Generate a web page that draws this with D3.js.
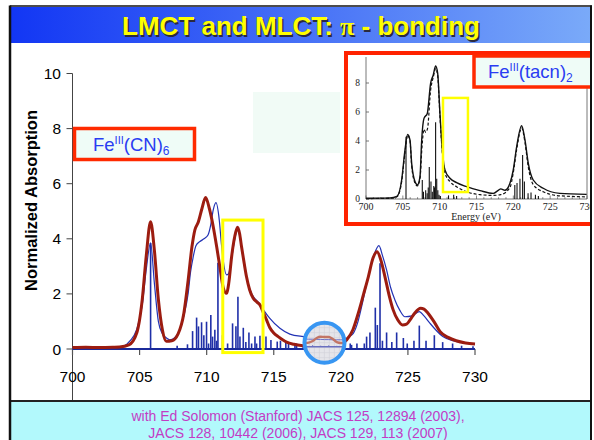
<!DOCTYPE html>
<html><head><meta charset="utf-8">
<script src="https://cdn.jsdelivr.net/npm/d3@7"></script>
<style>body{margin:0;background:#fff}svg{display:block}</style>
</head><body>
<svg id="c" width="594" height="440"></svg>
<script>
// ---------- data ----------
const xTicks = [700, 705, 710, 715, 720, 725, 730];
const yTicks = [0, 2, 4, 6, 8, 10];

// measured spectrum (red)
const redE = [700,701,702,703,703.5,704.2,704.8,705.2,705.5,705.82,706.1,706.4,706.7,707.0,707.4,707.87,708.3,708.62,708.9,709.12,709.37,709.65,709.92,710.2,710.49,710.75,710.98,711.25,711.48,711.65,711.86,712.1,712.3,712.45,712.6,712.8,712.97,713.2,713.47,713.75,713.97,714.2,714.47,714.7,715.0,715.33,715.96,716.5,717.2,717.8,718.5,719.3,720.0,720.43,720.9,721.3,721.7,722.05,722.4,722.7,723.0,723.29,723.6,723.9,724.25,724.6,724.9,725.15,725.5,725.95,726.2,726.5,727.0,727.4,728.0,728.6,729.3,730];
const redV = [0.05,0.06,0.05,0.06,0.07,0.15,0.6,1.8,3.4,4.62,3.6,1.8,0.7,0.28,0.3,0.55,1.3,2.5,3.7,4.32,4.6,5.1,5.5,5.1,4.44,3.7,2.99,2.2,2.02,2.4,3.35,4.1,4.42,4.2,3.71,3.1,2.62,2.15,1.84,1.7,1.6,1.35,1.05,0.78,0.58,0.45,0.25,0.17,0.12,0.1,0.11,0.12,0.18,0.33,0.7,1.3,2.0,2.62,3.3,3.53,3.2,2.62,1.95,1.42,1.05,0.87,0.9,1.05,1.3,1.48,1.45,1.3,0.95,0.63,0.42,0.3,0.22,0.18];

// calculated spectrum (blue)
const blueE = [700,702,703,703.8,704.3,704.77,705.2,705.5,705.82,706.1,706.4,706.7,707.0,707.26,707.6,708.0,708.3,708.62,708.8,709.0,709.2,709.5,709.8,710.1,710.3,710.49,710.69,710.94,711.1,711.23,711.48,711.62,711.86,712.1,712.3,712.45,712.6,712.8,712.97,713.2,713.47,713.75,713.97,714.34,714.71,715.46,716.2,717.2,718.2,719.2,720.2,720.6,720.93,721.25,721.55,721.85,722.17,722.5,722.84,723.1,723.41,723.7,724.03,724.4,724.78,725.3,725.85,726.2,726.65,727.1,727.6,728.5,729.6,730];
const blueV = [0.02,0.02,0.03,0.1,0.3,0.69,1.6,2.9,3.85,2.4,1.0,0.55,0.4,0.33,0.4,0.69,1.2,2.02,2.8,3.35,3.75,3.9,4.0,4.14,4.5,5.05,5.31,4.68,3.8,3.23,2.69,2.72,3.3,4.0,4.35,4.15,3.68,3.1,2.62,2.2,1.9,1.75,1.62,1.35,1.11,0.75,0.54,0.45,0.4,0.36,0.35,0.45,0.57,0.95,1.54,2.2,2.87,3.45,3.75,3.4,2.87,2.25,1.78,1.4,1.17,1.2,1.36,1.2,0.93,0.68,0.45,0.28,0.2,0.18];

// stick spectrum (blue)
const stickE = [705.82,707.8,708.57,708.95,709.25,709.39,709.62,709.79,709.99,710.14,710.31,710.44,710.61,710.74,710.84,711.18,711.56,711.93,712.18,712.33,712.48,712.73,712.92,713.15,713.35,713.6,713.72,713.97,714.42,714.79,715.26,715.5,715.9,716.1,716.58,716.7,717.2,720.2,720.7,720.8,721.2,721.75,721.92,722.17,722.57,722.72,722.92,723.1,723.41,723.8,724.16,724.66,724.95,725.45,725.85,726.35,726.97,727.59,728.33,729.0,729.85];
const stickV = [3.85,0.12,0.17,0.65,1.14,0.82,0.97,0.5,0.99,0.2,1.23,0.45,0.7,0.3,3.13,0.5,0.2,0.93,0.83,1.9,0.45,0.77,0.25,0.6,0.2,0.45,0.2,0.48,0.45,0.33,0.27,0.3,0.25,0.25,0.15,0.2,0.15,0.25,0.2,0.15,0.2,0.2,0.45,0.6,1.5,0.87,3.11,0.3,0.6,0.25,0.6,0.4,0.2,0.3,0.85,0.3,0.5,0.25,0.2,0.12,0.1];

// magnified pre-edge view (inside circle)
const magE = [716.9,717.3,717.6,717.9,718.2,718.5,718.8,719.1,719.4,719.7,720.0,720.3];
const magRedV = [0.28,0.3,0.32,0.4,0.55,0.61,0.6,0.6,0.5,0.34,0.3,0.3];
const magBlueV = [0.5,0.5,0.49,0.49,0.48,0.48,0.47,0.47,0.46,0.46,0.46,0.46];
const magStickE = [717.3,717.9,718.5,719.1,719.7];
const magStickV = [0.18,0.2,0.17,0.19,0.16];

// inset: Fe(III)(tacn)2
const insXTicks = [700, 705, 710, 715, 720, 725, 730];
const insYTicks = [0, 2, 4, 6, 8];
const insSolidE = [700,702,703.26,704.2,704.84,705.29,705.65,705.97,706.2,706.65,706.97,707.33,707.56,707.87,708.32,708.77,709.13,709.45,709.73,710.04,710.36,710.72,711.4,712.3,713.66,715.47,717.27,717.95,718.3,718.86,719.54,719.99,720.45,721.13,721.58,722.03,722.7,724.06,726.3,729.95];
const insSolidV = [0.05,0.06,0.07,0.18,1.31,3.38,4.45,4.07,2.46,1.2,0.97,1.55,4.07,5.56,5.9,7.98,8.55,9.17,8.67,5.9,3.38,2.0,1.43,1.13,0.85,0.58,0.39,0.6,0.7,0.6,1.08,2.0,3.6,5.05,4.07,2.46,1.31,0.74,0.39,0.32];
const insDashE = [700,703.3,704.2,704.84,705.29,705.65,705.97,706.2,706.65,706.97,707.33,707.6,707.87,708.1,708.35,708.77,709.13,709.45,709.73,710.04,710.36,710.72,711.4,712.3,713.66,715.47,717.27,718.3,719.54,719.99,720.45,721.13,721.58,722.03,722.7,724.06,726.3,729.95];
const insDashV = [0.03,0.05,0.15,1.2,3.2,4.4,4.0,2.3,1.1,0.9,1.4,3.6,4.8,4.6,4.85,7.5,8.4,9.0,8.5,5.7,3.2,1.8,1.2,0.85,0.5,0.3,0.25,0.3,0.8,1.8,3.4,4.9,3.9,2.2,1.0,0.5,0.22,0.15];
const insStickE = [705.43,707.64,707.8,708.1,708.3,708.45,708.59,708.82,709.0,709.2,709.3,709.45,709.6,709.75,709.9,710.1,711.2,711.9,712.3,720.2,720.5,720.9,721.26,721.5,722.0,722.4,723.0,723.4];
const insStickV = [4.3,1.31,0.5,0.6,0.4,0.8,2.2,1.2,0.5,0.9,0.8,5.29,1.4,0.6,0.3,0.2,0.25,0.3,0.2,0.97,1.1,1.4,3.03,1.2,0.4,0.45,0.3,0.2];

// annotation regions, in data units
const mainHighlight = {e0: 711.2, e1: 714.2, v0: -0.13, v1: 4.68};
const insetHighlight = {e0: 710.45, e1: 713.84, v0: 0.48, v1: 6.97};
const magnifier = {e: 718.78, v: 0.23};

const titleText = ["LMCT and MLCT: ", "π", " - bonding"];
const refLines = ["with Ed Solomon (Stanford) JACS 125, 12894 (2003),",
                  "JACS 128, 10442 (2006), JACS 129, 113 (2007)"];

// ---------- drawing ----------
const svg = d3.select("#c");
const defs = svg.append("defs");
const grad = defs.append("linearGradient").attr("id","tg").attr("x1","0").attr("x2","1");
grad.append("stop").attr("offset","0").attr("stop-color","#1236f4");
grad.append("stop").attr("offset","1").attr("stop-color","#7aaaf9");
defs.append("clipPath").attr("id","slide").append("rect").attr("x",10).attr("y",6).attr("width",581).attr("height",440);

const root = svg.append("g").attr("clip-path","url(#slide)");
const SANS = "'Liberation Sans', Arial, Helvetica, sans-serif";
const SERIF = "'Liberation Serif', 'Times New Roman', serif";

const x = d3.scaleLinear().domain([700,730]).range([72.5,475]);
const y = d3.scaleLinear().domain([0,10]).range([349,73.5]);

// faint pale rectangle
root.append("rect").attr("x",253).attr("y",92).attr("width",87).attr("height",61).attr("fill","#f1fbf6");

// y axis
root.append("line").attr("x1",x(700)).attr("x2",x(700)).attr("y1",y(10)).attr("y2",402)
  .attr("stroke","#444").attr("stroke-width",1);
root.selectAll(".yt").data(yTicks).join("line").attr("x1",x(700)-6).attr("x2",x(700))
  .attr("y1",d=>y(d)).attr("y2",d=>y(d)).attr("stroke","#444");
root.selectAll(".yl").data(yTicks).join("text").attr("x",61).attr("y",d=>y(d)).attr("dy","0.36em")
  .attr("text-anchor","end").attr("font-family",SANS).attr("font-size",15.5).text(d=>d);

// x ticks
root.selectAll(".xt").data(xTicks).join("line").attr("x1",d=>x(d)).attr("x2",d=>x(d))
  .attr("y1",y(0)).attr("y2",y(0)+6).attr("stroke","#555").attr("stroke-width",1.2);
root.selectAll(".xl").data(xTicks).join("text").attr("x",d=>x(d)).attr("y",376).attr("dy","0.36em")
  .attr("text-anchor","middle").attr("font-family",SANS).attr("font-size",15.5).text(d=>d);

// y title
root.append("text").attr("transform","translate(37,110) rotate(-90)").attr("text-anchor","end")
  .attr("font-family",SANS).attr("font-weight","bold").attr("font-size",16.5).text("Normalized Absorption");

// sticks
const sticks = d3.zip(stickE, stickV);
root.selectAll(".st").data(sticks).join("line").attr("x1",d=>x(d[0])).attr("x2",d=>x(d[0]))
  .attr("y1",y(0)).attr("y2",d=>y(d[1])).attr("stroke","#1f2fa8").attr("stroke-width",1.6);
root.append("line").attr("x1",x(700)).attr("x2",x(730)).attr("y1",y(0)).attr("y2",y(0))
  .attr("stroke","#1a2a9a").attr("stroke-width",2);

const line = d3.line().x(d=>x(d[0])).y(d=>y(d[1])).curve(d3.curveMonotoneX);
root.append("path").attr("d",line(d3.zip(blueE,blueV))).attr("fill","none")
  .attr("stroke","#2232b4").attr("stroke-width",1.2);
root.append("path").attr("d",line(d3.zip(redE,redV))).attr("fill","none")
  .attr("stroke","#9c1c10").attr("stroke-width",3).attr("stroke-linejoin","round");

// magnifier
const cx = x(magnifier.e), cy = y(magnifier.v), cr = 20;
defs.append("clipPath").attr("id","mag").append("circle").attr("cx",cx).attr("cy",cy).attr("r",cr);
const mg = root.append("g").attr("clip-path","url(#mag)");
mg.append("circle").attr("cx",cx).attr("cy",cy).attr("r",cr).attr("fill","#e5e5ea");
const gridSteps = d3.range(-4,5);
mg.selectAll(".gv").data(gridSteps).join("line").attr("x1",d=>cx+d*5).attr("x2",d=>cx+d*5)
  .attr("y1",cy-cr).attr("y2",cy+cr).attr("stroke","#d2d2da").attr("stroke-width",0.6);
mg.selectAll(".gh").data(gridSteps).join("line").attr("y1",d=>cy+d*5).attr("y2",d=>cy+d*5)
  .attr("x1",cx-cr).attr("x2",cx+cr).attr("stroke","#d2d2da").attr("stroke-width",0.6);
const yMag = d3.scaleLinear().domain([0,1]).range([349,329]);
const magLine = d3.line().x(d=>x(d[0])).y(d=>yMag(d[1])).curve(d3.curveMonotoneX);
mg.selectAll(".ms").data(d3.zip(magStickE,magStickV)).join("line").attr("x1",d=>x(d[0])).attr("x2",d=>x(d[0]))
  .attr("y1",yMag(0.115)).attr("y2",d=>yMag(d[1])).attr("stroke","#7a80c8").attr("stroke-width",1);
mg.append("line").attr("x1",cx-cr).attr("x2",cx+cr).attr("y1",yMag(0.115)).attr("y2",yMag(0.115))
  .attr("stroke","#6a70c0").attr("stroke-width",1.4);
mg.append("path").attr("d",magLine(d3.zip(magE,magBlueV))).attr("fill","none").attr("stroke","#6a70c8").attr("stroke-width",1);
mg.append("path").attr("d",magLine(d3.zip(magE,magRedV))).attr("fill","none").attr("stroke","#c27565").attr("stroke-width",2.4);
root.append("circle").attr("cx",cx).attr("cy",cy).attr("r",cr).attr("fill","none")
  .attr("stroke","#3896f2").attr("stroke-width",4);

// main highlight box
root.append("rect").attr("x",x(mainHighlight.e0)).attr("y",y(mainHighlight.v1))
  .attr("width",x(mainHighlight.e1)-x(mainHighlight.e0)).attr("height",y(mainHighlight.v0)-y(mainHighlight.v1))
  .attr("fill","none").attr("stroke","#ffff00").attr("stroke-width",3);

// chemical labels
function chemLabel(t, parts){
  parts.forEach(p=>{
    const ts = t.append("tspan").text(p.t);
    if(p.sup){ ts.attr("font-size",11).attr("dy",-7); }
    else if(p.sub){ ts.attr("font-size",12).attr("dy",p.dy); }
    else if(p.dy){ ts.attr("dy",p.dy); }
  });
}
root.append("rect").attr("x",74.5).attr("y",128.5).attr("width",120).attr("height",31)
  .attr("fill","#effcf7").attr("stroke","#ff2a00").attr("stroke-width",3.5);
chemLabel(root.append("text").attr("x",93).attr("y",151).attr("font-family",SANS).attr("font-size",18.5).attr("fill","#2a3cf2"),
  [{t:"Fe"},{t:"III",sup:true},{t:"(CN)",dy:7},{t:"6",sub:true,dy:4}]);

// ---------- inset ----------
const ins = root.append("g");
ins.append("rect").attr("x",346).attr("y",53).attr("width",260).attr("height",171)
  .attr("fill","#fff").attr("stroke","#ff2200").attr("stroke-width",4);
const xi = d3.scaleLinear().domain([700,730]).range([366,587]);
const yi = d3.scaleLinear().domain([0,10]).range([199,54]);
ins.append("line").attr("x1",xi(700)).attr("x2",xi(700)).attr("y1",57).attr("y2",yi(0)).attr("stroke","#555").attr("stroke-width",0.8);
ins.append("line").attr("x1",xi(730)).attr("x2",xi(730)).attr("y1",57).attr("y2",yi(0)).attr("stroke","#555").attr("stroke-width",0.8);
ins.append("line").attr("x1",xi(700)).attr("x2",xi(730)).attr("y1",yi(0)).attr("y2",yi(0)).attr("stroke","#555").attr("stroke-width",0.8);
ins.selectAll(".iyt").data(insYTicks).join("line").attr("x1",xi(700)).attr("x2",xi(700)+3)
  .attr("y1",d=>yi(d)).attr("y2",d=>yi(d)).attr("stroke","#555").attr("stroke-width",0.8);
ins.selectAll(".iyl").data(insYTicks).join("text").attr("x",360).attr("y",d=>yi(d)).attr("dy","0.35em")
  .attr("text-anchor","end").attr("font-family",SERIF).attr("font-size",9.5).attr("fill","#222").text(d=>d);
ins.selectAll(".ixm").data(d3.range(700,731)).join("line").attr("x1",d=>xi(d)).attr("x2",d=>xi(d))
  .attr("y1",yi(0)).attr("y2",d=>yi(0)-(d%5===0?3.5:1.8)).attr("stroke","#555").attr("stroke-width",0.7);
ins.selectAll(".ixl").data(insXTicks).join("text").attr("x",d=>xi(d)).attr("y",206).attr("dy","0.35em")
  .attr("text-anchor","middle").attr("font-family",SERIF).attr("font-size",10).attr("fill","#222").text(d=>d);
ins.append("text").attr("x",476).attr("y",216).attr("dy","0.35em").attr("text-anchor","middle")
  .attr("font-family",SERIF).attr("font-size",10).attr("fill","#222").text("Energy (eV)");
ins.selectAll(".ist").data(d3.zip(insStickE,insStickV)).join("line").attr("x1",d=>xi(d[0])).attr("x2",d=>xi(d[0]))
  .attr("y1",yi(0)).attr("y2",d=>yi(d[1])).attr("stroke","#111").attr("stroke-width",1.1);
const iline = d3.line().x(d=>xi(d[0])).y(d=>yi(d[1])).curve(d3.curveMonotoneX);
ins.append("path").attr("d",iline(d3.zip(insDashE,insDashV))).attr("fill","none").attr("stroke","#111")
  .attr("stroke-width",1.2).attr("stroke-dasharray","3,2");
ins.append("path").attr("d",iline(d3.zip(insSolidE,insSolidV))).attr("fill","none").attr("stroke","#111").attr("stroke-width",1.4);
ins.append("rect").attr("x",xi(insetHighlight.e0)).attr("y",yi(insetHighlight.v1))
  .attr("width",xi(insetHighlight.e1)-xi(insetHighlight.e0)).attr("height",yi(insetHighlight.v0)-yi(insetHighlight.v1))
  .attr("fill","none").attr("stroke","#ffff00").attr("stroke-width",2.5);
ins.append("rect").attr("x",474).attr("y",56).attr("width",130).attr("height",31)
  .attr("fill","#effcf7").attr("stroke","#ff2a00").attr("stroke-width",3.5);
chemLabel(ins.append("text").attr("x",488).attr("y",78).attr("font-family",SANS).attr("font-size",18.5).attr("fill","#2a3cf2"),
  [{t:"Fe"},{t:"III",sup:true},{t:"(tacn)",dy:7},{t:"2",sub:true,dy:4}]);

// ---------- title bar ----------
root.append("rect").attr("x",10).attr("y",7).attr("width",581).attr("height",36).attr("fill","url(#tg)");
function titleTextEl(dx,dy,fill){
  const t = root.append("text").attr("x",301+dx).attr("y",35+dy).attr("text-anchor","middle")
    .attr("font-family",SANS).attr("font-weight","bold").attr("font-size",26).attr("fill",fill);
  t.append("tspan").text(titleText[0]);
  t.append("tspan").attr("font-family",SERIF).text(titleText[1]);
  t.append("tspan").text(titleText[2]);
}
titleTextEl(1.5,1.5,"#2a2a40");
titleTextEl(0,0,"#ffff00");

// ---------- bottom band ----------
root.append("rect").attr("x",10).attr("y",401).attr("width",581).attr("height",40).attr("fill","#b2f9fc");
root.append("line").attr("x1",10).attr("x2",591).attr("y1",401).attr("y2",401).attr("stroke","#222").attr("stroke-width",2);
root.selectAll(".ref").data(refLines).join("text").attr("x",298).attr("y",(d,i)=>421+i*17)
  .attr("text-anchor","middle").attr("font-family",SANS).attr("font-size",14).attr("fill","#c23cc4").text(d=>d);

// ---------- frame ----------
svg.append("line").attr("x1",10).attr("x2",592).attr("y1",6).attr("y2",6).attr("stroke","#111").attr("stroke-width",1.5);
svg.append("line").attr("x1",10).attr("x2",10).attr("y1",5.5).attr("y2",440).attr("stroke","#111").attr("stroke-width",2.5);
svg.append("line").attr("x1",591).attr("x2",591).attr("y1",5.5).attr("y2",440).attr("stroke","#111").attr("stroke-width",2);
</script>
</body></html>
